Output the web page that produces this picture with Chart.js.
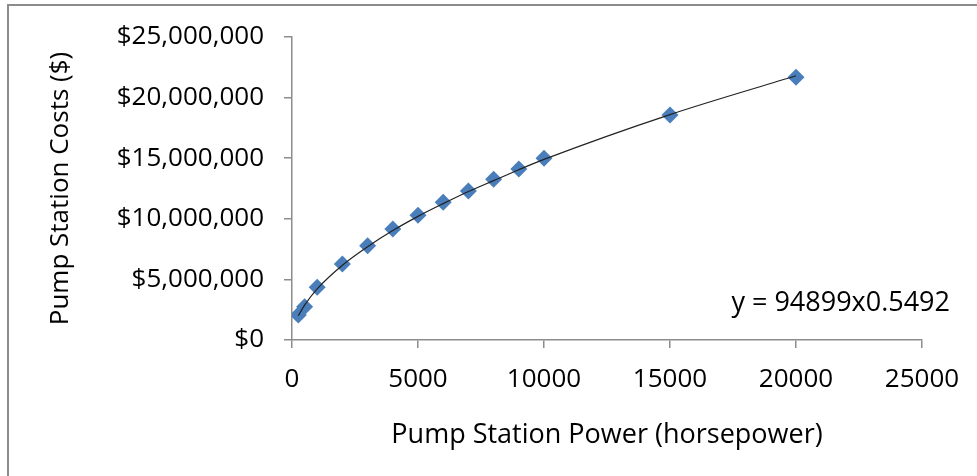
<!DOCTYPE html>
<html>
<head>
<meta charset="utf-8">
<script src="https://cdn.jsdelivr.net/npm/chart.js@4"></script>
<style>
  html, body { margin: 0; padding: 0; background: #fff; }
  #wrap { width: 977px; height: 476px; position: relative; }
</style>
</head>
<body>
<div id="wrap"><canvas id="pump-chart" width="977" height="476"></canvas></div>
<script>
  // Pump station data
  const powerHp = [250, 500, 1000, 2000, 3000, 4000, 5000, 6000, 7000, 8000, 9000, 10000, 15000, 20000];
  const costs = [2060000, 2750000, 4350000, 6270000, 7780000, 9160000, 10300000, 11360000, 12300000, 13260000, 14100000, 15000000, 18560000, 21670000];

  // Power trendline, values
  const trendHp = [250, 500, 1000, 2000, 3000, 4000, 5000, 6000, 7000, 8000, 9000, 10000, 15000, 20000];
  const trendCost = [2000000, 2880000, 4220000, 6170000, 7700000, 9030000, 10200000, 11250000, 12250000, 13150000, 14050000, 14900000, 18600000, 21800000];
  const trendLabel = "y = 94899x0.5492";

  const xTicks = [0, 5000, 10000, 15000, 20000, 25000];
  const yTicks = [0, 5000000, 10000000, 15000000, 20000000, 25000000];

  const fontFamily = "'Open Sans', sans-serif";
  const axisGray = "#8c8c8c";

  // Frame + equation label
  const framePlugin = {
    id: "frame",
    beforeDraw(chart) {
      const { ctx, width, height } = chart;
      ctx.save();
      ctx.fillStyle = "#fff";
      ctx.fillRect(0, 0, width, height);
      ctx.fillStyle = "#8c8c8c";
      ctx.fillRect(7, 4, width - 7, 2);
      ctx.fillRect(7, 4, 2, height - 4);
      ctx.restore();
    },
    afterDraw(chart) {
      const { ctx, chartArea } = chart;
      ctx.save();
      ctx.font = "27px " + fontFamily;
      ctx.fillStyle = "#000";
      ctx.textAlign = "right";
      ctx.textBaseline = "middle";
      ctx.fillText(trendLabel, chartArea.right + 28, 303);
      ctx.restore();
    },
  };

  new Chart(document.getElementById("pump-chart"), {
    type: "scatter",
    plugins: [framePlugin],
    data: {
      datasets: [
        {
          label: "Trend",
          data: trendHp.map((x, i) => ({ x: x, y: trendCost[i] })),
          showLine: true,
          borderColor: "#222",
          borderWidth: 1.2,
          pointRadius: 0,
          cubicInterpolationMode: "monotone",
        },
        {
          label: "Costs",
          data: powerHp.map((x, i) => ({ x: x, y: costs[i] })),
          pointStyle: "rectRot",
          pointRadius: 8.5,
          backgroundColor: "#4a7ebb",
          borderColor: "#4a7ebb",
          borderWidth: 0,
        },
      ],
    },
    options: {
      responsive: false,
      animation: false,
      layout: {
        padding: { left: 20, top: 37, right: 55, bottom: 0 },
      },
      plugins: {
        legend: { display: false },
        tooltip: { enabled: false },
      },
      scales: {
        x: {
          type: "linear",
          min: 0,
          max: 25000,
          afterBuildTicks: (scale) => {
            scale.ticks = xTicks.map((v) => ({ value: v }));
          },
          afterFit: (scale) => {
            scale.height = 136;
          },
          border: { color: axisGray, width: 1.5 },
          grid: {
            drawOnChartArea: false,
            drawTicks: true,
            tickLength: 8,
            color: axisGray,
            lineWidth: 1.5,
          },
          ticks: {
            color: "#000",
            padding: 16,
            maxRotation: 0,
            font: { family: fontFamily, size: 26 },
            callback: (v) => String(v),
          },
          title: {
            display: true,
            text: "Pump Station Power (horsepower)",
            color: "#000",
            padding: { top: 0, bottom: 24 },
            font: { family: fontFamily, size: 27 },
          },
        },
        y: {
          type: "linear",
          min: 0,
          max: 25000000,
          afterBuildTicks: (scale) => {
            scale.ticks = yTicks.map((v) => ({ value: v }));
          },
          afterFit: (scale) => {
            scale.width = 272;
          },
          border: { color: axisGray, width: 1.5 },
          grid: {
            drawOnChartArea: false,
            drawTicks: true,
            tickLength: 8,
            color: axisGray,
            lineWidth: 1.5,
          },
          ticks: {
            color: "#000",
            padding: 20,
            font: { family: fontFamily, size: 26 },
            callback: (v) => "$" + Number(v).toLocaleString("en-US"),
          },
          title: {
            display: true,
            text: "Pump Station Costs ($)",
            color: "#000",
            padding: { top: 25, bottom: 0 },
            font: { family: fontFamily, size: 26 },
          },
        },
      },
    },
  });
</script>
</body>
</html>
